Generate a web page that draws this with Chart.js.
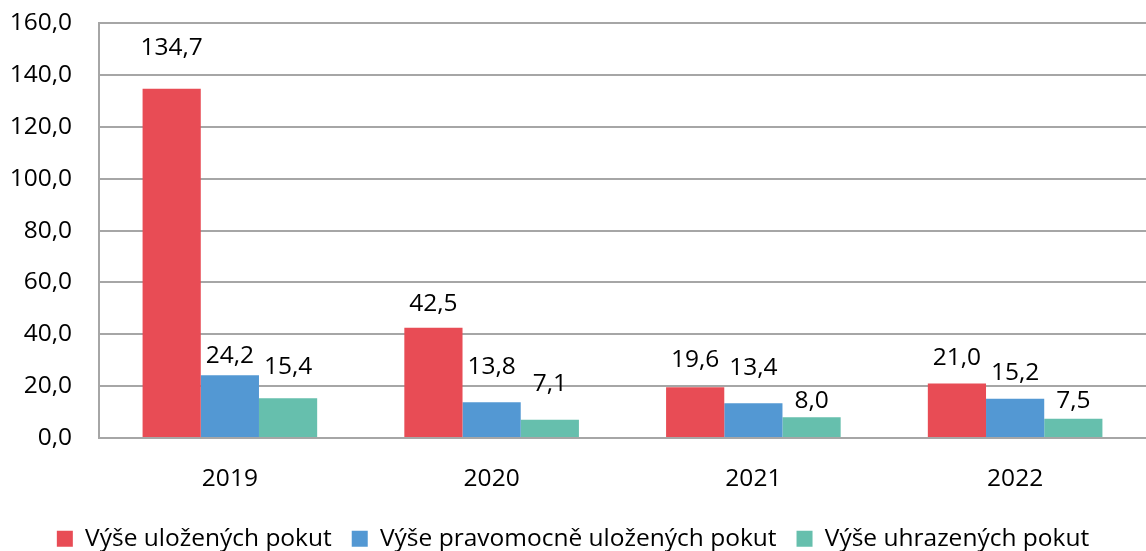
<!DOCTYPE html>
<html>
<head>
<meta charset="utf-8">
<script src="https://cdn.jsdelivr.net/npm/chart.js@4"></script>
<style>
  html, body { margin: 0; padding: 0; background: #fff; }
  #wrap { width: 1146px; height: 551px; }
</style>
</head>
<body>
<div id="wrap"><canvas id="graf"></canvas></div>
<script>
const roky = ['2019', '2020', '2021', '2022'];
const ulozene = [134.7, 42.5, 19.6, 21.0];
const pravomocne = [24.2, 13.8, 13.4, 15.2];
const uhrazene = [15.4, 7.1, 8.0, 7.5];
const nazvy = ['Výše uložených pokut', 'Výše pravomocně uložených pokut', 'Výše uhrazených pokut'];
const barvy = ['#E84C55', '#5398D3', '#66BFAD'];

// posun popisku nad sloupcem (px), po sériích
const labelLift = [
  [41, 24, 27, 26],
  [19, 35, 35, 26],
  [31, 36, 16, 18]
];

const FONT = 'Open Sans';
const SIZE = 24.5;
const fmt = v => v.toFixed(1).replace('.', ',');

const popisky = {
  id: 'popisky',
  afterDatasetsDraw(chart) {
    const ctx = chart.ctx;
    ctx.save();
    ctx.font = `${SIZE}px "${FONT}"`;
    ctx.fillStyle = '#000';
    ctx.textAlign = 'center';
    ctx.textBaseline = 'middle';
    chart.data.datasets.forEach((ds, i) => {
      chart.getDatasetMeta(i).data.forEach((bar, j) => {
        ctx.fillText(fmt(ds.data[j]), bar.x, bar.y - labelLift[i][j]);
      });
    });
    ctx.restore();
  }
};

new Chart(document.getElementById('graf'), {
  type: 'bar',
  data: {
    labels: roky,
    datasets: [ulozene, pravomocne, uhrazene].map((d, i) => ({
      label: nazvy[i],
      data: d,
      backgroundColor: barvy[i],
      borderWidth: 0,
      categoryPercentage: 0.667,
      barPercentage: 1
    }))
  },
  options: {
    responsive: true,
    maintainAspectRatio: false,
    animation: false,
    layout: { padding: { top: 23, right: 0, bottom: -10, left: 0 } },
    plugins: {
      tooltip: { enabled: false },
      legend: {
        position: 'bottom',
        labels: {
          font: { family: FONT, size: SIZE },
          color: '#000',
          boxWidth: 16,
          boxHeight: 16,
          padding: 20
        }
      }
    },
    scales: {
      x: {
        afterFit(scale) { scale.height -= 5; },
        grid: { display: false },
        border: { color: '#A6A6A6', width: 2 },
        ticks: { font: { family: FONT, size: SIZE }, color: '#000', padding: 18 }
      },
      y: {
        min: 0,
        max: 160,
        afterFit(scale) { scale.width = 99; },
        grid: { color: '#A6A6A6', lineWidth: 2, drawTicks: true, tickLength: 27, tickColor: 'rgba(0,0,0,0)' },
        border: { color: '#A6A6A6', width: 2 },
        ticks: {
          stepSize: 20,
          padding: 0,
          font: { family: FONT, size: SIZE },
          color: '#000',
          callback: v => fmt(v)
        }
      }
    }
  },
  plugins: [popisky]
});
</script>
</body>
</html>
